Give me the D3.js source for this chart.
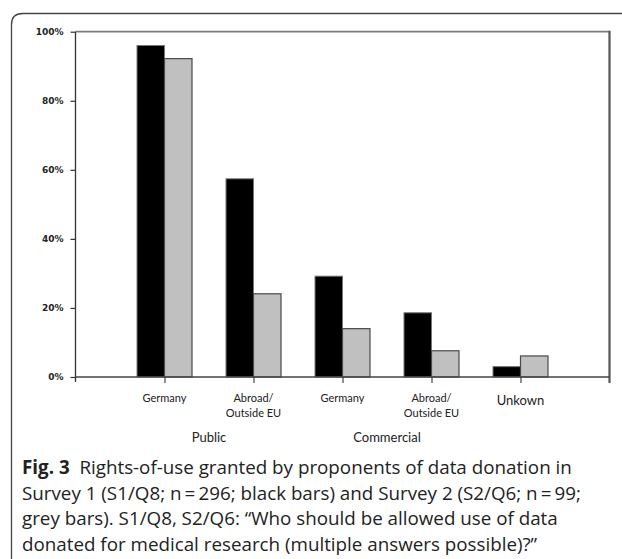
<!DOCTYPE html>
<html>
<head>
<meta charset="utf-8">
<script src="https://cdn.jsdelivr.net/npm/d3@7"></script>
<style>
  html, body { margin: 0; padding: 0; background: #fff; }
  svg { display: block; }
</style>
</head>
<body>
<svg id="chart" width="622" height="559"></svg>
<script>
// ---- data ----
const categories = ["Public Germany", "Public Abroad", "Commercial Germany", "Commercial Abroad", "Unknown"];
const categoryLabels = [["Germany"], ["Abroad/", "Outside EU"], ["Germany"], ["Abroad/", "Outside EU"], ["Unkown"]];
const survey1 = [96, 57.4, 29.2, 18.6, 3.0];   // black bars
const survey2 = [92.2, 24.1, 14.0, 7.6, 6.1];   // grey bars
const yTicks = [0, 20, 40, 60, 80, 100];
const groupLabels = ["Public", "Commercial"];
const captionBold = "Fig. 3";
const captionLines = [
  "Rights-of-use granted by proponents of data donation in",
  "Survey 1 (S1/Q8; n\u2009=\u2009296; black bars) and Survey 2 (S2/Q6; n\u2009=\u200999;",
  "grey bars). S1/Q8, S2/Q6: \u201cWho should be allowed use of data",
  "donated for medical research (multiple answers possible)?\u201d"
];

const svg = d3.select("#chart");

// outer frame (rounded top-left corner, open to right and bottom)
const rad = 11;
svg.append("path")
  .attr("d", `M11.5,560 L11.5,${13.5 + rad} Q11.5,13.5 ${11.5 + rad},13.5 L623,13.5`)
  .attr("fill", "none").attr("stroke", "#444").attr("stroke-width", 1.3);

const pLeft = 75.5, pRight = 609.5, pTop = 31.7, pBottom = 377;
const x = d3.scalePoint().domain(categories).range([pLeft, pRight]).padding(1);
const y = d3.scaleLinear().domain([0, 100]).range([pBottom, pTop]);
const inner = d3.scaleBand().domain(["s1", "s2"]).range([-27.5, 27.5]).padding(0);

// plot frame: top
svg.append("line").attr("x1", pLeft).attr("x2", pRight).attr("y1", pTop).attr("y2", pTop)
  .attr("stroke", "#7a7a7a").attr("stroke-width", 1.8);

// bars
const rows = categories.map((c, i) => ({ c, s1: survey1[i], s2: survey2[i] }));
const g = svg.append("g");
rows.forEach(d => {
  g.append("rect")
    .attr("x", x(d.c) + inner("s1")).attr("width", inner.bandwidth())
    .attr("y", y(d.s1)).attr("height", y(0) - y(d.s1))
    .attr("fill", "#000").attr("stroke", "#777").attr("stroke-width", 1);
  g.append("rect")
    .attr("x", x(d.c) + inner("s2")).attr("width", inner.bandwidth())
    .attr("y", y(d.s2)).attr("height", y(0) - y(d.s2))
    .attr("fill", "#c0c0c0").attr("stroke", "#4a4a4a").attr("stroke-width", 1.2);
});

// right border
svg.append("line").attr("x1", pRight).attr("x2", pRight).attr("y1", pTop - 1).attr("y2", pBottom + 6)
  .attr("stroke", "#555").attr("stroke-width", 2.2);

// y axis
const yAxis = d3.axisLeft(y).tickValues(yTicks).tickFormat(d => d + "%").tickSize(5).tickPadding(6);
const ya = svg.append("g").attr("transform", `translate(${pLeft},0)`).call(yAxis);
ya.select(".domain").attr("d", `M0,${pTop}V${pBottom + 5}`).attr("stroke", "#333").attr("stroke-width", 1.3);
ya.selectAll(".tick line").attr("stroke", "#333").attr("stroke-width", 1.2);
ya.selectAll(".tick text").attr("font-family", "DejaVu Sans, sans-serif").attr("font-size", 9)
  .attr("fill", "#222").attr("font-weight", "bold").attr("dx", -1);

// x axis
const xAxis = d3.axisBottom(x).tickSize(6).tickFormat("");
const xa = svg.append("g").attr("transform", `translate(0,${pBottom})`).call(xAxis);
xa.select(".domain").attr("d", `M${pLeft},0H${pRight}`).attr("stroke", "#444").attr("stroke-width", 1.3);
xa.selectAll(".tick line").attr("stroke", "#444").attr("stroke-width", 1.2);

// category labels
categories.forEach((c, i) => {
  const lines = categoryLabels[i];
  const big = lines[0] === "Unkown";
  const t = svg.append("text")
    .attr("x", x(c)).attr("text-anchor", "middle")
    .attr("font-family", "Lato, sans-serif").attr("font-size", big ? 13 : 11)
    .attr("fill", "#222");
  lines.forEach((ln, j) => {
    t.append("tspan").attr("x", x(c)).attr("y", (big ? 405 : 402) + j * 15).text(ln);
  });
});

// group labels
const groupX = [(x(categories[0]) + x(categories[1])) / 2, (x(categories[2]) + x(categories[3])) / 2];
groupLabels.forEach((lbl, i) => {
  svg.append("text").attr("x", groupX[i]).attr("y", 442).attr("text-anchor", "middle")
    .attr("font-family", "Lato, sans-serif").attr("font-size", 13).attr("fill", "#222").text(lbl);
});

// caption
const capFont = "Open Sans, sans-serif";
captionLines.forEach((ln, i) => {
  const t = svg.append("text").attr("x", 22).attr("y", 474 + i * 25.5)
    .attr("font-family", capFont).attr("font-size", 18.8).attr("fill", "#222");
  if (i === 0) {
    t.append("tspan").attr("font-weight", "bold").text(captionBold);
    t.append("tspan").text("\u00a0\u00a0" + ln);
  } else {
    t.text(ln);
  }
});
</script>
</body>
</html>
